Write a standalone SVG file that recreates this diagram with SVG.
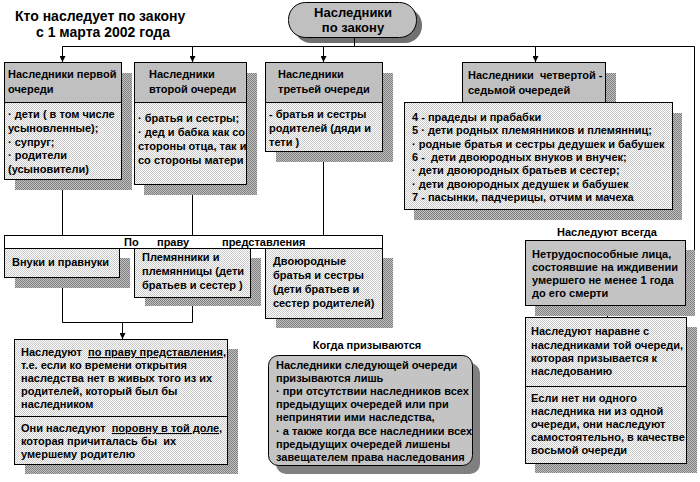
<svg xmlns="http://www.w3.org/2000/svg" width="700" height="482" viewBox="0 0 700 482">
<defs>
<pattern id="dots" width="2" height="2" patternUnits="userSpaceOnUse"><rect width="2" height="2" fill="#ffffff"/><rect width="1" height="1" fill="#c8c8c8"/><rect x="1" y="1" width="1" height="1" fill="#c8c8c8"/></pattern>
<pattern id="shd" width="2" height="2" patternUnits="userSpaceOnUse"><rect width="2" height="2" fill="#c0c0c0"/><rect width="1" height="1" fill="#808080"/><rect x="1" y="1" width="1" height="1" fill="#808080"/></pattern>
<marker id="arr" viewBox="0 0 6 6" refX="6" refY="3" markerWidth="6" markerHeight="6" orient="auto" markerUnits="userSpaceOnUse"><path d="M0,0 L6,3 L0,6 z" fill="#000"/></marker>
</defs>
<style>
text{font-family:"Liberation Sans",Arial,sans-serif;font-weight:bold;font-size:11px;fill:#000}
.t{font-size:14px}
.p{font-size:13px}
.box{fill:url(#dots);stroke:#000;stroke-width:1}
.hdr{fill:#c0c0c0;stroke:#000;stroke-width:1}
.gray{fill:#c4c4c4;stroke:#000;stroke-width:1}
.sh{fill:url(#shd)}
.ln{fill:none;stroke:#000;stroke-width:1}
.u{text-decoration:underline}
</style>
<rect width="700" height="482" fill="#fff"/>

<g id="title">
<text class="t" x="15" y="21">Кто наследует по закону</text>
<text class="t" x="36" y="37">с 1 марта 2002 года</text>
</g>

<g id="n-root">
<rect x="294" y="8" width="128" height="35" rx="17" fill="#707070"/>
<rect x="288.5" y="2.5" width="128" height="35" rx="17" fill="#c0c0c0" stroke="#000"/>
<text class="p" x="353" y="17" text-anchor="middle">Наследники</text>
<text class="p" x="353" y="32" text-anchor="middle">по закону</text>
</g>

<g id="connectors">
<path class="ln" d="M354.5,38 V46.5"/>
<path class="ln" d="M62.5,46.5 H694.5 V272.5 H686"/>
<path class="ln" d="M694.5,272.5 H687" marker-end="url(#arr)"/>
<path class="ln" d="M62.5,46.5 V62" marker-end="url(#arr)"/>
<path class="ln" d="M192.5,46.5 V62" marker-end="url(#arr)"/>
<path class="ln" d="M323.5,46.5 V62" marker-end="url(#arr)"/>
<path class="ln" d="M535.5,46.5 V62" marker-end="url(#arr)"/>
<path class="ln" d="M62.5,180 V248" marker-end="url(#arr)"/>
<path class="ln" d="M192.5,185 V248" marker-end="url(#arr)"/>
<path class="ln" d="M323.5,152 V248" marker-end="url(#arr)"/>
<path class="ln" d="M62.5,278 V322.5 H192.5 V298"/>
<path class="ln" d="M122.5,322.5 V339" marker-end="url(#arr)"/>
<path class="ln" d="M607.5,306 V317" marker-end="url(#arr)"/>
</g>

<g id="n-q1">
<rect class="sh" x="15" y="73" width="117" height="117"/>
<rect class="hdr" x="4.5" y="62.5" width="117" height="40"/>
<rect class="box" x="4.5" y="102.5" width="117" height="77"/>
<text x="8" y="78">Наследники первой</text>
<text x="8" y="93">очереди</text>
<text x="8" y="118">· дети ( в том числе</text>
<text x="8" y="132">усыновленные);</text>
<text x="8" y="146">· супруг;</text>
<text x="8" y="159">· родители</text>
<text x="8" y="173">(усыновители)</text>
</g>

<g id="n-q2">
<rect class="sh" x="144" y="73" width="113" height="122"/>
<rect class="hdr" x="134.5" y="62.5" width="112" height="40"/>
<rect class="box" x="134.5" y="102.5" width="112" height="82"/>
<text x="149" y="78">Наследники</text>
<text x="149" y="93">второй очереди</text>
<text x="138" y="122">· братья и сестры;</text>
<text x="138" y="136">· дед и бабка как со</text>
<text x="138" y="150">стороны отца, так и</text>
<text x="138" y="164">со стороны матери</text>
</g>

<g id="n-q3">
<rect class="sh" x="276" y="73" width="117" height="89"/>
<rect class="hdr" x="265.5" y="62.5" width="117" height="40"/>
<rect class="box" x="265.5" y="102.5" width="117" height="49"/>
<text x="278" y="78">Наследники</text>
<text x="278" y="93">третьей очереди</text>
<text x="269" y="118">- братья и сестры</text>
<text x="269" y="132">родителей (дяди и</text>
<text x="269" y="146">тети )</text>
</g>

<g id="n-q47">
<rect class="sh" x="473" y="73" width="143" height="40"/>
<rect class="hdr" x="462.5" y="62.5" width="143" height="40"/>
<rect class="sh" x="414" y="113" width="268" height="107"/>
<rect class="box" x="404.5" y="102.5" width="268" height="107"/>
<text x="468" y="79" xml:space="preserve">Наследники  четвертой -</text>
<text x="468" y="94">седьмой очередей</text>
<text x="412" y="121">4 - прадеды и прабабки</text>
<text x="412" y="134">5 · дети родных племянников и племянниц;</text>
<text x="412" y="148">· родные братья и сестры дедушек и бабушек</text>
<text x="412" y="161" xml:space="preserve">6 -  дети двоюродных внуков и внучек;</text>
<text x="412" y="174">· дети двоюродных братьев и сестер;</text>
<text x="412" y="188">· дети двоюродных дедушек и бабушек</text>
<text x="412" y="201">7 - пасынки, падчерицы, отчим и мачеха</text>
</g>

<g id="n-band">
<rect x="4.5" y="235.5" width="378" height="13" fill="#fff" stroke="#000"/>
<text x="124" y="246">По</text>
<text x="157" y="246">праву</text>
<text x="222" y="246">представления</text>
</g>

<g id="n-vnuki">
<rect class="sh" x="15" y="258" width="115" height="30"/>
<rect class="box" x="4.5" y="248.5" width="115" height="29"/>
<text x="12" y="266">Внуки и правнуки</text>
</g>

<g id="n-plem">
<rect class="sh" x="145" y="258" width="116" height="48"/>
<rect class="box" x="134.5" y="248.5" width="116" height="49"/>
<text x="142" y="261">Племянники и</text>
<text x="142" y="275">племянницы (дети</text>
<text x="142" y="289">братьев и сестер )</text>
</g>

<g id="n-dvoyu">
<rect class="sh" x="276" y="258" width="117" height="70"/>
<rect class="box" x="265.5" y="248.5" width="117" height="70"/>
<text x="273" y="265">Двоюродные</text>
<text x="273" y="279">братья и сестры</text>
<text x="273" y="293">(дети братьев и</text>
<text x="273" y="307">сестер родителей)</text>
</g>

<g id="n-repr">
<rect class="sh" x="25" y="349" width="213" height="125"/>
<rect class="box" x="14.5" y="339.5" width="213" height="77"/>
<rect class="box" x="14.5" y="416.5" width="213" height="48"/>
<text x="21" y="356" xml:space="preserve">Наследуют  <tspan class="u">по праву представления</tspan>,</text>
<text x="21" y="369">т.е. если ко времени открытия</text>
<text x="21" y="382">наследства нет в живых того из их</text>
<text x="21" y="395">родителей, который был бы</text>
<text x="21" y="408">наследником</text>
<text x="21" y="432" xml:space="preserve">Они наследуют  <tspan class="u">поровну в той доле</tspan>,</text>
<text x="21" y="445" xml:space="preserve">которая причиталась бы  их</text>
<text x="21" y="458">умершему родителю</text>
</g>

<g id="n-when">
<text x="367" y="349" text-anchor="middle">Когда призываются</text>
<rect x="276" y="363" width="204" height="111" rx="10" fill="#808080"/>
<rect class="gray" x="268.5" y="355.5" width="204" height="110" rx="10"/>
<text x="276" y="369">Наследники следующей очереди</text>
<text x="276" y="382">призываются лишь</text>
<text x="276" y="395">· при отсутствии наследников всех</text>
<text x="276" y="408">предыдущих очередей или при</text>
<text x="276" y="421">непринятии ими наследства,</text>
<text x="276" y="435">· а также когда все наследники всех</text>
<text x="276" y="448">предыдущих очередей лишены</text>
<text x="276" y="461">завещателем права наследования</text>
</g>

<g id="n-always">
<text x="607" y="236" text-anchor="middle">Наследуют всегда</text>
<rect class="sh" x="535" y="250" width="160" height="66"/>
<rect class="gray" x="525.5" y="240.5" width="160" height="65"/>
<text x="532" y="258">Нетрудоспособные лица,</text>
<text x="532" y="271">состоявшие на иждивении</text>
<text x="532" y="284">умершего не менее 1 года</text>
<text x="532" y="297">до его смерти</text>
</g>

<g id="n-equal">
<rect class="sh" x="535" y="327" width="162" height="146"/>
<rect class="box" x="525.5" y="317.5" width="161" height="69"/>
<rect class="box" x="525.5" y="386.5" width="161" height="77"/>
<text x="531" y="335">Наследуют наравне с</text>
<text x="531" y="349">наследниками той очереди,</text>
<text x="531" y="362">которая призывается к</text>
<text x="531" y="375">наследованию</text>
<text x="531" y="402">Если нет ни одного</text>
<text x="531" y="415">наследника ни из одной</text>
<text x="531" y="428">очереди, они наследуют</text>
<text x="531" y="441">самостоятельно, в качестве</text>
<text x="531" y="454">восьмой очереди</text>
</g>
</svg>
